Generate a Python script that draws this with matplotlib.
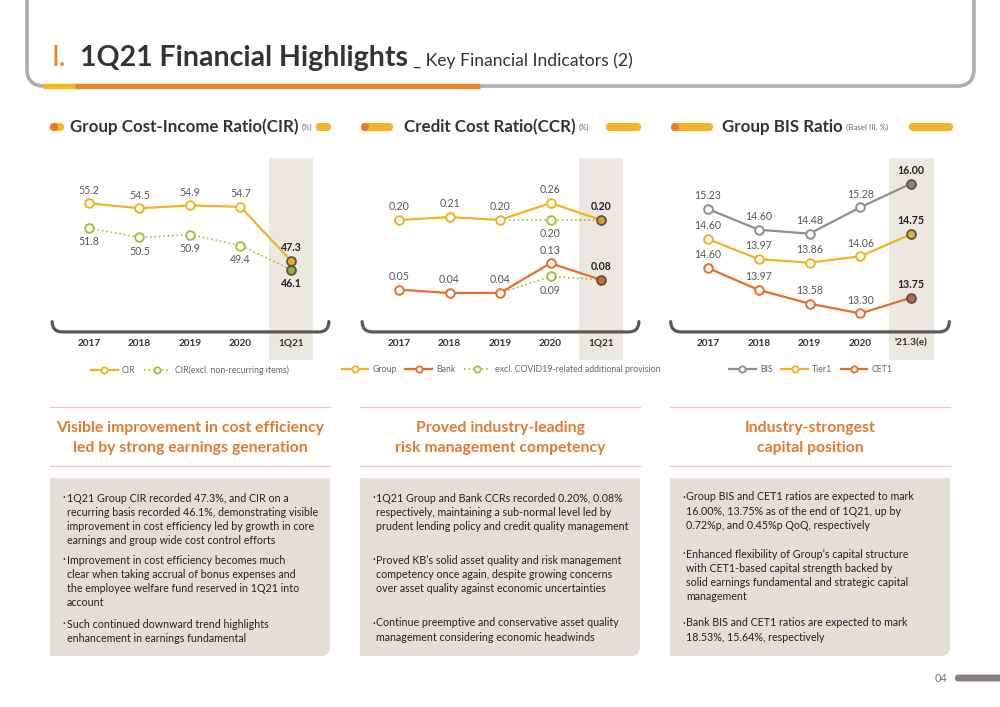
import numpy as np
import matplotlib
matplotlib.use('Agg')
import matplotlib.pyplot as plt
import matplotlib.transforms as mtransforms
from matplotlib.path import Path
from matplotlib.patches import PathPatch, FancyBboxPatch, Circle
from matplotlib.lines import Line2D

plt.rcParams['font.family'] = ['Lato', 'DejaVu Sans']

# ---- data ----
years = ['2017', '2018', '2019', '2020', '1Q21']
cir = [55.2, 54.5, 54.9, 54.7, 47.3]
cir_excl = [51.8, 50.5, 50.9, 49.4, 46.1]

ccr_group = [0.20, 0.21, 0.20, 0.26, 0.20]
ccr_bank = [0.05, 0.04, 0.04, 0.13, 0.08]
ccr_group_excl = [np.nan, np.nan, 0.20, 0.20, 0.20]
ccr_bank_excl = [np.nan, np.nan, 0.04, 0.09, 0.08]

bis_years = ['2017', '2018', '2019', '2020', "'21.3(e)"]
bis = [15.23, 14.60, 14.48, 15.28, 16.00]
tier1 = [14.60, 13.97, 13.86, 14.06, 14.75]
cet1 = [14.60, 13.97, 13.58, 13.30, 13.75]

# colours
YEL = '#f4b223'
ORG = '#e56f2a'
GRN = '#9dc23b'
GRY = '#8f8f8f'
SHADE = '#ebe8e2'
BOXC = '#e3dfd8'
DARK = '#333333'
LBL = '#555555'
SUBC = '#e27a30'

W, H = 1000, 707
fig = plt.figure(figsize=(10, 7.07), dpi=100)
bg = fig.add_axes([0, 0, 1, 1])
bg.set_xlim(0, W)
bg.set_ylim(H, 0)
bg.set_axis_off()


def px_axes(x0, x1, y0, y1):
    return fig.add_axes([x0 / W, 1 - y1 / H, (x1 - x0) / W, (y1 - y0) / H])


# ---- header frame ----
r = 17
frame = Path([(27, -10), (27, 86 - r), (27, 86), (27 + r, 86), (974 - r, 86),
              (974, 86), (974, 86 - r), (974, -10)],
             [Path.MOVETO, Path.LINETO, Path.CURVE3, Path.CURVE3, Path.LINETO,
              Path.CURVE3, Path.CURVE3, Path.LINETO])
bg.add_patch(PathPatch(frame, fill=False, ec='#adadad', lw=2.6, capstyle='round'))
bg.plot([43, 76], [85.5, 85.5], color='#f7b51e', lw=3.8, solid_capstyle='butt')
bg.plot([75, 480], [85.5, 85.5], color='#ee8424', lw=3.8, solid_capstyle='butt')

bg.text(51, 66, 'I.', color='#ee8424', fontsize=20, va='baseline')
bg.text(80, 66, '1Q21 Financial Highlights', color=DARK, fontsize=20.5,
        fontweight='bold', va='baseline')
bg.text(413, 66, '_ Key Financial Indicators (2)', color=DARK, fontsize=12.6,
        va='baseline')

# ---- section headers ----
headers = [('Group Cost-Income Ratio(CIR)', '(%)', 50, 64, 70, 316, 331),
           ('Credit Cost Ratio(CCR)', '(%)', 361, 393, 404, 606, 641),
           ('Group BIS Ratio', '(Basel III, %)', 671, 713, 722, 909, 953)]
for title, unit, lp0, lp1, tx, rp0, rp1 in headers:
    bg.add_patch(FancyBboxPatch((lp0, 123), lp1 - lp0, 8, boxstyle='round,pad=0,rounding_size=4',
                                fc='#f6b327', ec='none'))
    bg.add_patch(Circle((lp0 + 4, 127), 4, fc='#ea7a2a', ec='none'))
    bg.add_patch(FancyBboxPatch((rp0, 123), rp1 - rp0, 8, boxstyle='round,pad=0,rounding_size=4',
                                fc='#f6b327', ec='none'))
    t = bg.text(tx, 127, title, color=DARK, fontsize=12.2, fontweight='bold', va='center')
    bg.annotate(unit, xy=(1, 0.45), xycoords=t, xytext=(2.5, 0), textcoords='offset points',
                fontsize=5.8, color='#666666', va='center')


# ---- chart helpers ----
def base_axes(x0, x1):
    ax = px_axes(x0, x1, 158, 360)
    ax.set_xlim(-1, 5)
    ax.set_axis_off()
    ax.axvspan(3.56, 4.44, color=SHADE, zorder=0, lw=0)
    return ax


def bracket(ax, labels):
    tr = mtransforms.blended_transform_factory(ax.transData, ax.transAxes)
    x0, x1, yb, yt, dx = -0.73, 4.75, 0.139, 0.19, 0.2
    p = Path([(x0, yt), (x0, yb), (x0 + dx, yb), (x1 - dx, yb), (x1, yb), (x1, yt)],
             [Path.MOVETO, Path.CURVE3, Path.CURVE3, Path.LINETO, Path.CURVE3, Path.CURVE3])
    ax.add_patch(PathPatch(p, fill=False, ec='#595959', lw=2.3, transform=tr,
                           capstyle='round', zorder=3, clip_on=False))
    for i, lab in enumerate(labels):
        ax.text(i, 0.084, lab, transform=tr, ha='center', va='center', fontsize=7.2,
                fontweight='bold', color=DARK)


def series(ax, vals, color, ls='-', lw=1.6, last_fc=None, every=None):
    x = np.arange(len(vals))
    if every is None:
        every = [i for i in range(len(vals) - 1)]
    ax.plot(x, vals, color=color, ls=ls, lw=lw, marker='o', ms=6.2, mfc='white',
            mec=color, mew=1.4, markevery=every, zorder=4, clip_on=False)
    if last_fc is not None:
        ax.plot([x[-1]], [vals[-1]], marker='o', ms=6.4, mfc=last_fc, mec='#5a5248',
                mew=1.3, ls='none', zorder=5, clip_on=False)


def lab(ax, i, v, fmt, above=True, bold=False):
    ax.annotate(fmt.format(v), xy=(i, v), xytext=(0, 9.5 if above else -10),
                textcoords='offset points', ha='center', va='center', fontsize=7.6,
                color='#222222' if bold else LBL, fontweight='bold' if bold else 'normal',
                zorder=6)


def legend_at(ax, handles, labels, cx):
    fig.legend(handles, labels, loc='center', bbox_to_anchor=(cx / W, 1 - 370 / H),
               ncol=len(handles), frameon=False, fontsize=6.3, handlelength=3.0,
               columnspacing=1.0, handletextpad=0.5, labelcolor='#666666')


def proxy(color, ls='-', lw=1.6):
    return Line2D([], [], color=color, ls=ls, lw=lw, marker='o', ms=4.5, mfc='white',
                  mec=color, mew=1.3)


# ---- CIR ----
ax1 = base_axes(38.5, 341.5)
ax1.set_ylim(33.7, 61.4)
series(ax1, cir, YEL, last_fc='#f2a92c')
series(ax1, cir_excl, GRN, ls=':', lw=1.2, last_fc='#8fb03c')
for i in range(5):
    last = i == 4
    lab(ax1, i, cir[i], '{:.1f}', True, last)
    lab(ax1, i, cir_excl[i], '{:.1f}', False, last)
bracket(ax1, years)
legend_at(ax1, [proxy(YEL), proxy(GRN, ':', 1.2)], ['CIR', 'CIR(excl. non-recurring items)'], 190)

# ---- CCR ----
ax2 = base_axes(348.5, 651.5)
ax2.set_ylim(-0.295, 0.419)
ax2b = ax2.twinx()
ax2b.set_axis_off()
ax2b.set_ylim(-0.163, 0.449)
ax2.plot(np.arange(5), ccr_group_excl, color=GRN, ls=':', lw=1.2, marker='o', ms=6.2,
         mfc='white', mec=GRN, mew=1.4, markevery=[3], zorder=3)
ax2b.plot(np.arange(5), ccr_bank_excl, color=GRN, ls=':', lw=1.2, marker='o', ms=6.2,
          mfc='white', mec=GRN, mew=1.4, markevery=[3], zorder=3)
series(ax2, ccr_group, YEL, last_fc='#d89a35')
series(ax2b, ccr_bank, ORG, last_fc='#d0682e')
for i in range(5):
    last = i == 4
    lab(ax2, i, ccr_group[i], '{:.2f}', True, last)
    lab(ax2b, i, ccr_bank[i], '{:.2f}', True, last)
lab(ax2, 3, ccr_group_excl[3], '{:.2f}', False)
lab(ax2b, 3, ccr_bank_excl[3], '{:.2f}', False)
bracket(ax2b, years)
legend_at(ax2, [proxy(YEL), proxy(ORG), proxy(GRN, ':', 1.2)],
          ['Group', 'Bank', 'excl. COVID19-related additional provision'], 501)

# ---- BIS ----
ax3 = base_axes(657, 962)
ax3.set_ylim(10.65, 16.775)
ax3b = ax3.twinx()
ax3b.set_axis_off()
ax3b.set_ylim(10.82, 17.13)
ax3c = ax3.twinx()
ax3c.set_axis_off()
ax3c.set_ylim(11.97, 17.74)
series(ax3, bis, GRY, last_fc='#8a847b')
series(ax3b, tier1, YEL, last_fc='#e9b02c')
series(ax3c, cet1, ORG, last_fc='#b9693c')
for i in range(5):
    last = i == 4
    lab(ax3, i, bis[i], '{:.2f}', True, last)
    lab(ax3b, i, tier1[i], '{:.2f}', True, last)
    lab(ax3c, i, cet1[i], '{:.2f}', True, last)
bracket(ax3c, bis_years)
legend_at(ax3, [proxy(GRY), proxy(YEL), proxy(ORG)], ['BIS', 'Tier1', 'CET1'], 811)

# ---- sub headings and text boxes ----
subheads = [('Visible improvement in cost efficiency', 'led by strong earnings generation'),
            ('Proved industry-leading', 'risk management competency'),
            ('Industry-strongest', 'capital position')]

body = [
    [["1Q21 Group CIR recorded 47.3%, and CIR on a",
      "recurring basis recorded 46.1%, demonstrating visible",
      "improvement in cost efficiency led by growth in core",
      "earnings and group wide cost control efforts"],
     ["Improvement in cost efficiency becomes much",
      "clear when taking accrual of bonus expenses and",
      "the employee welfare fund reserved in 1Q21 into",
      "account"],
     ["Such continued downward trend highlights",
      "enhancement in earnings fundamental"]],
    [["1Q21 Group and Bank CCRs recorded 0.20%, 0.08%",
      "respectively, maintaining a sub-normal level led by",
      "prudent lending policy and credit quality management"],
     ["Proved KB\u2019s solid asset quality and risk management",
      "competency once again, despite growing concerns",
      "over asset quality against economic uncertainties"],
     ["Continue preemptive and conservative asset quality",
      "management considering economic headwinds"]],
    [["Group BIS and CET1 ratios are expected to mark",
      "16.00%, 13.75% as of the end of 1Q21, up by",
      "0.72%p, and 0.45%p QoQ, respectively"],
     ["Enhanced flexibility of Group\u2019s capital structure",
      "with CET1-based capital strength backed by",
      "solid earnings fundamental and strategic capital",
      "management"],
     ["Bank BIS and CET1 ratios are expected to mark",
      "18.53%, 15.64%, respectively"]],
]
para_y = [[498, 560, 624], [498, 560, 623], [497, 554, 623]]
box_x = [(50, 330), (360, 640), (670, 950)]
text_x = [(62, 67), (372, 376), (682, 686)]

for k in range(3):
    x0, x1 = box_x[k]
    cx = (x0 + x1) / 2
    bg.plot([x0, x1], [407, 407], color='#efc9b3', lw=0.9)
    bg.plot([x0, x1], [466, 466], color='#efc9b3', lw=0.9)
    bg.text(cx, 428, subheads[k][0], ha='center', va='center', fontsize=11.3,
            fontweight='bold', color=SUBC)
    bg.text(cx, 448, subheads[k][1], ha='center', va='center', fontsize=11.3,
            fontweight='bold', color=SUBC)
    y0, y1, rr = 478, 656, 9
    box = Path([(x0, y0), (x1, y0), (x1, y1 - rr), (x1, y1), (x1 - rr, y1), (x0, y1), (x0, y0)],
               [Path.MOVETO, Path.LINETO, Path.LINETO, Path.CURVE3, Path.CURVE3,
                Path.LINETO, Path.CLOSEPOLY])
    bg.add_patch(PathPatch(box, fc=BOXC, ec='none'))
    bx, tx = text_x[k]
    for para, py in zip(body[k], para_y[k]):
        bg.text(bx, py, '\u00b7', ha='left', va='center', fontsize=7.7, color='#222222')
        for j, line in enumerate(para):
            bg.text(tx, py + j * 14.3, line, ha='left', va='center', fontsize=7.7,
                    color='#222222')

# ---- page number ----
bg.text(947, 678, '04', ha='right', va='center', fontsize=7.8, color='#777777')
bg.add_patch(FancyBboxPatch((955, 674.5), 60, 7, boxstyle='round,pad=0,rounding_size=3.5',
                            fc='#88837d', ec='none', clip_on=False))

fig.savefig('out.png', dpi=100)
